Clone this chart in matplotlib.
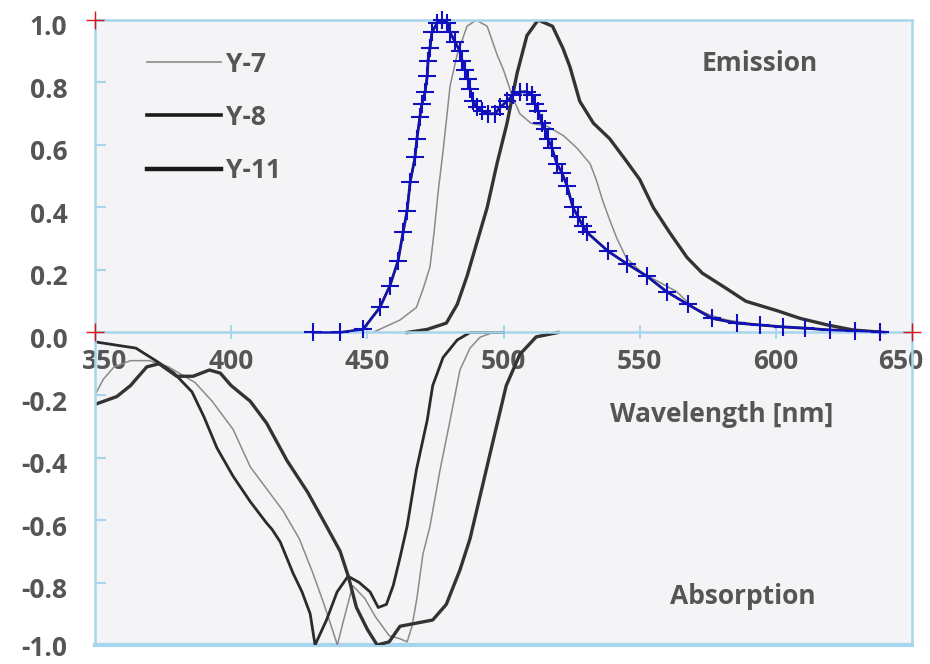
import matplotlib
matplotlib.use("Agg")
import matplotlib.pyplot as plt
import matplotlib.transforms as mtrans

# emission spectra (normalised)
wl_y7_em = [452, 462, 468, 470.5, 473, 474.5, 476, 477.8, 480.4, 483, 486.6, 490, 494, 497.6, 500,
            503.5, 506, 510, 516, 522, 527, 531.8, 534, 536.5, 539, 541.7, 545, 551, 557.5, 563.7,
            569.6, 575.8, 582, 594, 606, 619, 638]
y7_em = [0.0, 0.04, 0.08, 0.14, 0.21, 0.32, 0.45, 0.58, 0.79, 0.89, 0.98, 1.0, 0.98, 0.89, 0.84,
         0.75, 0.70, 0.67, 0.66, 0.63, 0.59, 0.54, 0.49, 0.42, 0.36, 0.30, 0.24, 0.19, 0.16, 0.13,
         0.08, 0.056, 0.04, 0.024, 0.014, 0.008, 0.0]

wl_y8_em = [430, 440, 448.4, 454.6, 458.3, 461.3, 463.1, 464.6, 465.7, 467.5, 468.2, 469.3, 470,
            471.2, 472, 472.3, 473, 473.7, 475.6, 477.4, 479.3, 480.4, 482.2, 484, 484.8, 485.9,
            487, 487.7, 488.8, 490.3, 492.1, 494.3, 496.9, 498.7, 501.3, 503.5, 506, 508.6, 510.5,
            511.6, 512.7, 514.1, 515.2, 516.3, 517.8, 519.6, 521.5, 523.3, 525.5, 527.4, 529.2,
            530.7, 538.4, 545.3, 552.7, 560, 567.7, 576.6, 585.7, 594.2, 602.6, 610.7, 619.9,
            629, 638.2]
y8_em = [0.0, 0.0, 0.01, 0.08, 0.15, 0.23, 0.32, 0.39, 0.48, 0.56, 0.62, 0.69, 0.73,
         0.77, 0.82, 0.87, 0.91, 0.96, 0.99, 1.0, 0.99, 0.96, 0.93, 0.90, 0.87, 0.84,
         0.81, 0.78, 0.74, 0.72, 0.71, 0.70, 0.70, 0.72, 0.74, 0.76, 0.77, 0.77, 0.76,
         0.73, 0.71, 0.67, 0.65, 0.62, 0.59, 0.54, 0.51, 0.47, 0.40, 0.37, 0.34,
         0.32, 0.26, 0.22, 0.18, 0.13, 0.09, 0.045, 0.03, 0.024, 0.018, 0.014, 0.008,
         0.005, 0.002]

wl_y11_em = [464.6, 472, 479, 483, 486.6, 490.3, 494, 497.6, 501.3, 505, 508.6, 512.7, 518, 521.8,
             524.4, 528, 533, 539, 545, 550, 555, 561, 567.4, 573, 582, 589, 600.4, 609, 619,
             628.4, 640]
y11_em = [0.0, 0.01, 0.03, 0.09, 0.18, 0.29, 0.40, 0.54, 0.67, 0.83, 0.95, 1.0, 0.98, 0.91,
          0.85, 0.74, 0.67, 0.62, 0.55, 0.49, 0.40, 0.32, 0.24, 0.19, 0.14, 0.10, 0.07, 0.045,
          0.024, 0.008, 0.0]

# absorption spectra (plotted negative)
wl_y7_ab = [350, 353, 357, 363, 370, 377, 386.7, 393, 400.7, 407, 413, 419, 425, 430, 433.7, 436,
            439, 441, 444.6, 449, 453, 458, 462, 464.6, 466.4, 468.2, 470.4, 473, 476.7, 480.4,
            484, 487.7, 491.4, 496, 500]
y7_ab = [-0.2, -0.15, -0.11, -0.09, -0.09, -0.11, -0.16, -0.22, -0.31, -0.43, -0.50, -0.57, -0.66,
         -0.77, -0.86, -0.92, -1.0, -0.93, -0.81, -0.85, -0.91, -0.97, -0.98, -0.99, -0.94, -0.85,
         -0.71, -0.62, -0.44, -0.28, -0.12, -0.05, -0.015, 0.0, 0.0]

wl_y8_ab = [350, 365, 373, 379, 385.6, 390, 394.8, 400.7, 406.9, 413, 415, 418, 422.7, 426, 429,
            430.8, 435, 438.9, 442.9, 447, 451, 454, 457, 459.5, 462, 464.6, 468, 472, 474, 477.8,
            483, 487.7, 500]
y8_ab = [-0.03, -0.05, -0.094, -0.13, -0.19, -0.27, -0.37, -0.46, -0.54, -0.61, -0.63, -0.67,
         -0.77, -0.83, -0.9, -1.0, -0.92, -0.83, -0.78, -0.80, -0.83, -0.88, -0.87, -0.81, -0.72,
         -0.62, -0.44, -0.28, -0.17, -0.08, -0.024, 0.0, 0.0]

wl_y11_ab = [350, 358, 363, 369, 373.5, 380, 386, 392, 396, 400, 407, 413, 420.5, 428, 435, 440,
             443, 446, 450, 453.6, 458, 462, 468, 474, 479, 484, 487.7, 495, 501, 506, 512, 520]
y11_ab = [-0.23, -0.205, -0.17, -0.11, -0.10, -0.14, -0.14, -0.12, -0.13, -0.17, -0.22, -0.29,
          -0.41, -0.51, -0.62, -0.70, -0.78, -0.88, -0.95, -1.0, -0.99, -0.94, -0.93, -0.92,
          -0.87, -0.76, -0.66, -0.39, -0.17, -0.07, -0.014, 0.0]

# calibration points (red crosses)
cal_x = [350, 350, 650]
cal_y = [1.0, 0.0, 0.0]

xticks = [350, 400, 450, 500, 550, 600, 650]
yticks = [1.0, 0.8, 0.6, 0.4, 0.2, 0.0, -0.2, -0.4, -0.6, -0.8, -1.0]

blue_sp = '#a8d5ee'
txt = '#555555'
fs = 19
plt.rcParams['font.family'] = ['Open Sans', 'DejaVu Sans']

fig = plt.figure(figsize=(9.3, 6.64), dpi=100)
ax = fig.add_axes([0.1022, 0.0286, 0.8784, 0.9413])
ax.set_facecolor('#f4f4f6')

# curves
c7 = '#8a8a8a'
c8 = '#2b2b2b'
c11 = '#333333'
ax.plot(wl_y7_em, y7_em, color=c7, lw=1.1)
ax.plot(wl_y11_em, y11_em, color=c11, lw=2.4)
ax.plot(wl_y8_em, y8_em, color=c8, lw=2.0)
ax.plot(wl_y7_ab, y7_ab, color=c7, lw=1.1)
ax.plot(wl_y8_ab, y8_ab, color=c8, lw=2.0)
ax.plot(wl_y11_ab, y11_ab, color=c11, lw=2.4)

# digitised overlay
ax.plot(wl_y8_em, y8_em, color='#1010c0', lw=1.5, marker='+', ms=13, mew=1.5, clip_on=False, zorder=5)
ax.plot(cal_x, cal_y, ls='none', marker='+', ms=13, mew=1.0, color='#e0101a', clip_on=False, zorder=6)

ax.set_xlim(350, 650)
ax.set_ylim(-1, 1)

# frame + zero axis
for s in ['left', 'right', 'top', 'bottom']:
    ax.spines[s].set_color(blue_sp)
    ax.spines[s].set_linewidth(1.8)
ax.spines['bottom'].set_position(('data', 0))
ax.axhline(-1, color=blue_sp, lw=3.0, clip_on=False, zorder=0.5)

ax.set_xticks(xticks)
ax.set_yticks(yticks)
ax.set_yticklabels(['%.1f' % v for v in yticks])
ax.tick_params(axis='x', direction='inout', length=10, width=1.5, color=blue_sp, pad=6,
               labelsize=fs, labelcolor=txt)
ax.tick_params(axis='y', direction='in', length=8, width=1.5, color=blue_sp, pad=20,
               labelsize=fs, labelcolor=txt)
for lab in ax.get_xticklabels() + ax.get_yticklabels():
    lab.set_fontweight('bold')

# nudge labels like in the original
for lab in ax.get_yticklabels()[:-1]:
    lab.set_transform(lab.get_transform() + mtrans.ScaledTranslation(0, -0.05, fig.dpi_scale_trans))
xl = ax.get_xticklabels()
xl[0].set_transform(xl[0].get_transform() + mtrans.ScaledTranslation(0.1, 0, fig.dpi_scale_trans))
xl[-1].set_transform(xl[-1].get_transform() + mtrans.ScaledTranslation(-0.11, 0, fig.dpi_scale_trans))

ax.text(594, 0.862, 'Emission', ha='center', va='center', fontsize=fs, fontweight='bold', color=txt)
ax.text(588, -0.846, 'Absorption', ha='center', va='center', fontsize=fs, fontweight='bold', color=txt)
ax.text(580, -0.262, 'Wavelength [nm]', ha='center', va='center', fontsize=fs, fontweight='bold', color=txt)

# legend
h7, = ax.plot([], [], color='#8a8a8a', lw=1.2)
h8, = ax.plot([], [], color='#1a1a1a', lw=2.6)
h11, = ax.plot([], [], color='#1a1a1a', lw=3.2)
leg = ax.legend([h7, h8, h11], ['Y-7', 'Y-8', 'Y-11'], loc='upper left',
                bbox_to_anchor=(0.051, 0.968), borderaxespad=0, frameon=False, fontsize=fs,
                handlelength=2.8, handletextpad=0.2, labelspacing=0.99)
for t in leg.get_texts():
    t.set_fontweight('bold')
    t.set_color(txt)

fig.savefig('out.png', dpi=100, facecolor='white')
